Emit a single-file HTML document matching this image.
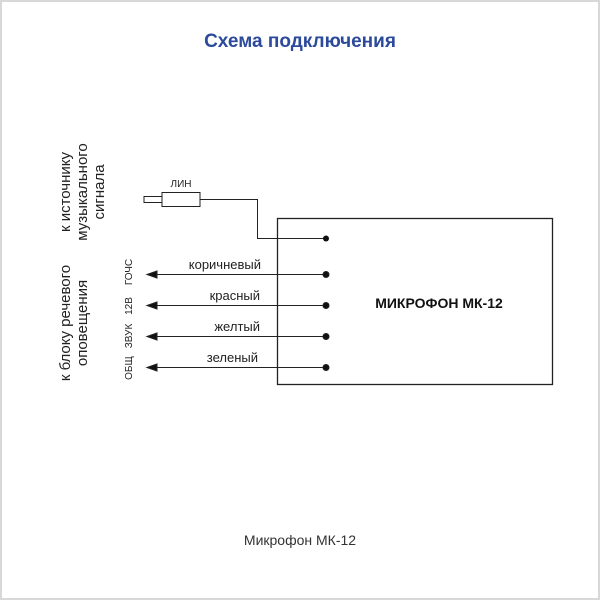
<!DOCTYPE html>
<html><head><meta charset="utf-8"><style>
html,body{margin:0;padding:0;background:#fff}
svg{display:block}
text{font-family:"Liberation Sans",sans-serif}
</style></head><body>
<svg width="600" height="600" viewBox="0 0 600 600">
<rect x="1" y="1" width="598" height="598" fill="#fff" stroke="#d8d8d8" stroke-width="2"/>
<text x="300" y="47" text-anchor="middle" font-size="19" font-weight="bold" fill="#2b4a9b">Схема подключения</text>
<rect x="277.5" y="218.5" width="275" height="166" fill="none" stroke="#222" stroke-width="1.3"/>
<text x="439" y="308" text-anchor="middle" font-size="14" font-weight="bold" fill="#111">МИКРОФОН МК-12</text>
<!-- plug -->
<rect x="144" y="196.5" width="18" height="6" fill="none" stroke="#222" stroke-width="1"/>
<rect x="162" y="192.5" width="38" height="14" fill="none" stroke="#222" stroke-width="1"/>
<text x="181" y="187" text-anchor="middle" font-size="10" fill="#222">ЛИН</text>
<polyline points="200,199.5 257.5,199.5 257.5,238.5 326,238.5" fill="none" stroke="#222" stroke-width="1"/>
<circle cx="326" cy="238.5" r="3" fill="#111"/>
<g stroke="#222" stroke-width="1" fill="#111">
<line x1="150" y1="274.5" x2="326" y2="274.5"/><circle cx="326" cy="274.5" r="3"/><polygon points="147,274.5 157,271 157,278"/>
<line x1="150" y1="305.5" x2="326" y2="305.5"/><circle cx="326" cy="305.5" r="3"/><polygon points="147,305.5 157,302 157,309"/>
<line x1="150" y1="336.5" x2="326" y2="336.5"/><circle cx="326" cy="336.5" r="3"/><polygon points="147,336.5 157,333 157,340"/>
<line x1="150" y1="367.5" x2="326" y2="367.5"/><circle cx="326" cy="367.5" r="3"/><polygon points="147,367.5 157,364 157,371"/>
</g>
<g font-size="13" fill="#222" text-anchor="end">
<text x="261" y="269">коричневый</text>
<text x="260" y="300">красный</text>
<text x="260" y="331">желтый</text>
<text x="258" y="362">зеленый</text>
</g>
<g font-size="10" fill="#222" text-anchor="middle">
<text transform="translate(132,272) rotate(-90)">ГОЧС</text>
<text transform="translate(132,306) rotate(-90)">12В</text>
<text transform="translate(132,336) rotate(-90)">ЗВУК</text>
<text transform="translate(132,368) rotate(-90)">ОБЩ</text>
</g>
<g font-size="15" fill="#222" text-anchor="middle">
<text transform="translate(70,192) rotate(-90)">к источнику</text>
<text transform="translate(87,192) rotate(-90)">музыкального</text>
<text transform="translate(104,192) rotate(-90)">сигнала</text>
<text transform="translate(70,323) rotate(-90)">к блоку речевого</text>
<text transform="translate(87,323) rotate(-90)">оповещения</text>
</g>
<text x="300" y="545" text-anchor="middle" font-size="14" fill="#333">Микрофон МК-12</text>
</svg>
</body></html>
